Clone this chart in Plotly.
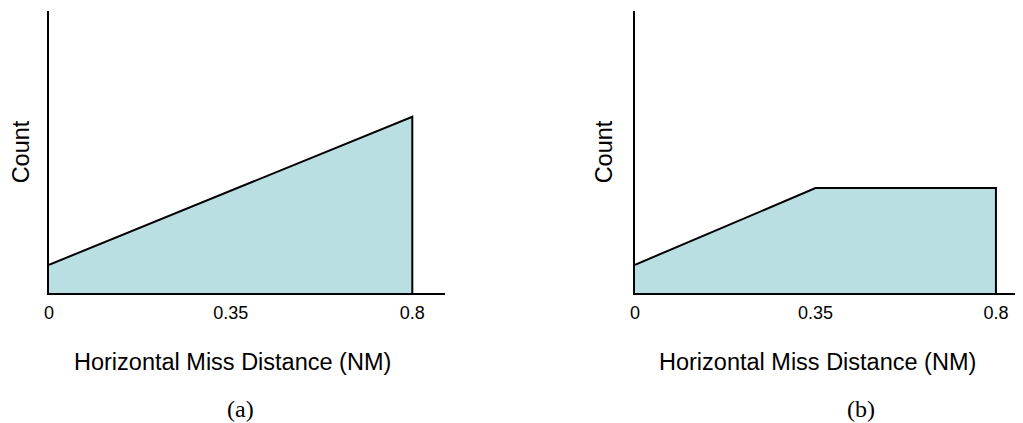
import plotly.graph_objects as go

# Tick categories (drawn at equal spacing, as in the reference)
x_ticks = ["0", "0.35", "0.8"]

# Panel (a): linear ramp from 0 to 0.8 NM, then vertical drop
a_x = ["0", "0.8", "0.8"]
a_count = [1.0, 6.25, 0.0]

# Panel (b): ramp to 0.35 NM, then flat to 0.8 NM, then vertical drop
b_x = ["0", "0.35", "0.8", "0.8"]
b_count = [1.0, 3.72, 3.72, 0.0]

x_title = "Horizontal Miss Distance (NM)"
y_title = "Count"
panel_labels = ["(a)", "(b)"]

FILL = "#BADFE2"
SANS = "Liberation Sans, Arial, sans-serif"
SERIF = "Liberation Serif, Times New Roman, serif"
W, H = 1023, 423
OFF = 8  # page body margin offset

def px(v):
    return (v - OFF) / W

def py(v):
    return 1 - (v - OFF) / H

fig = go.Figure()
fig.add_trace(go.Scatter(x=a_x, y=a_count, mode="lines", fill="tozeroy",
                         fillcolor=FILL, line=dict(color="black", width=2),
                         xaxis="x", yaxis="y", showlegend=False, hoverinfo="skip"))
fig.add_trace(go.Scatter(x=b_x, y=b_count, mode="lines", fill="tozeroy",
                         fillcolor=FILL, line=dict(color="black", width=2),
                         xaxis="x2", yaxis="y2", showlegend=False, hoverinfo="skip"))

def xaxis(domain, rng, anchor):
    return dict(domain=domain, range=rng, type="category",
                categoryorder="array", categoryarray=x_ticks,
                tickvals=x_ticks, ticktext=x_ticks,
                showgrid=False, zeroline=False, showline=True,
                linecolor="black", linewidth=2, ticks="",
                ticklabelstandoff=2, automargin=False,
                tickfont=dict(family=SANS, size=18, color="black"),
                anchor=anchor, fixedrange=True)

def yaxis(anchor):
    return dict(domain=[py(293), py(11)], range=[0, 10],
                showgrid=False, zeroline=False, showline=True,
                linecolor="black", linewidth=2, ticks="", showticklabels=False,
                automargin=False,
                title=dict(text=y_title, standoff=14,
                           font=dict(family=SANS, size=23.5, color="black")),
                anchor=anchor, fixedrange=True)

title_font = dict(family=SANS, size=23.5, color="black")
label_font = dict(family=SERIF, size=24, color="black")

fig.update_layout(
    width=W, height=H,
    margin=dict(l=0, r=0, t=0, b=0),
    paper_bgcolor="white", plot_bgcolor="white",
    xaxis=xaxis([px(49), px(445)], [0, 2.18], "y"),
    yaxis=yaxis("x"),
    xaxis2=xaxis([px(635), px(1023)], [0, 2.15], "y2"),
    yaxis2=yaxis("x2"),
    annotations=[
        dict(text=x_title, x=px(232), y=py(362), xref="paper", yref="paper",
             xanchor="center", yanchor="middle", showarrow=False, font=title_font),
        dict(text=x_title, x=px(817), y=py(362), xref="paper", yref="paper",
             xanchor="center", yanchor="middle", showarrow=False, font=title_font),
        dict(text=panel_labels[0], x=px(240), y=py(409), xref="paper", yref="paper",
             xanchor="center", yanchor="middle", showarrow=False, font=label_font),
        dict(text=panel_labels[1], x=px(861), y=py(409), xref="paper", yref="paper",
             xanchor="center", yanchor="middle", showarrow=False, font=label_font),
    ],
)

fig.write_html("out.html")
